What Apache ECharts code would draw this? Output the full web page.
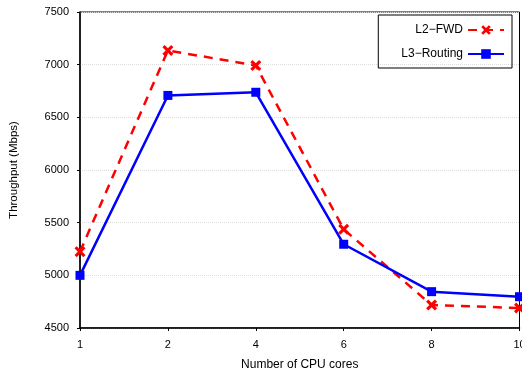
<!DOCTYPE html>
<html><head><meta charset="utf-8">
<script src="https://cdn.jsdelivr.net/npm/echarts@6/dist/echarts.min.js"></script>
<style>html,body{margin:0;padding:0;background:#fff}#c{width:522px;height:373px}</style>
</head><body><div id="c"></div>
<script>
const categories = ['1','2','4','6','8','10'];
const l2fwd = [5225, 7135, 6992, 5437, 4718, 4690];
const l3routing = [5000, 6708, 6738, 5295, 4845, 4797];
const yTicks = {min: 4500, max: 7500, interval: 500};

const crossPath = 'path://M0,2L2,0L5,3L8,0L10,2L7,5L10,8L8,10L5,7L2,10L0,8L3,5Z';
const font = 'Liberation Sans, Arial, Helvetica, sans-serif';
const chart = echarts.init(document.getElementById('c'));
chart.setOption({
  animation: false,
  backgroundColor: '#fff',
  textStyle: {fontFamily: font},
  grid: {left: 80, right: 2.5, top: 12, bottom: 45, show: true, borderColor: '#000', borderWidth: 1,
         containLabel: false, outerBoundsMode: 'none'},
  legend: {
    right: 10, top: 15, orient: 'vertical', align: 'right',
    borderColor: '#000', borderWidth: 1, padding: [9, 7, 8, 23], itemGap: 12,
    itemWidth: 36, itemHeight: 12,
    textStyle: {fontFamily: font, fontSize: 12, color: '#000'},
    data: ['L2\u2212FWD', 'L3\u2212Routing']
  },
  xAxis: {
    type: 'category', data: categories, boundaryGap: false,
    name: 'Number of CPU cores', nameLocation: 'middle', nameGap: 31,
    nameTextStyle: {fontFamily: font, fontSize: 12, color: '#000'},
    axisLine: {lineStyle: {color: '#000', width: 1.5}},
    axisTick: {show: true, length: 3, lineStyle: {color: '#000'}},
    axisLabel: {fontFamily: font, fontSize: 11, color: '#000', margin: 11, showMaxLabel: true},
    splitLine: {show: false}
  },
  yAxis: {
    type: 'value', min: yTicks.min, max: yTicks.max, interval: yTicks.interval,
    name: 'Throughput (Mbps)', nameLocation: 'middle', nameGap: 60,
    nameTextStyle: {fontFamily: font, fontSize: 11.5, color: '#000'},
    axisLine: {show: true, lineStyle: {color: '#000', width: 1.5}},
    axisTick: {show: true, length: 3, lineStyle: {color: '#000'}},
    axisLabel: {fontFamily: font, fontSize: 11, color: '#000', margin: 11, formatter: v => String(v)},
    splitLine: {show: true, lineStyle: {color: '#ddd', type: 'dotted', width: 1}}
  },
  series: [
    {
      name: 'L2\u2212FWD', type: 'line', data: l2fwd,
      symbol: crossPath, symbolSize: 11,
      itemStyle: {color: '#ff0000'},
      lineStyle: {color: '#ff0000', width: 2.5, type: [9, 7]},
      z: 2
    },
    {
      name: 'L3\u2212Routing', type: 'line', data: l3routing,
      symbol: 'rect', symbolSize: 9,
      itemStyle: {color: '#0000ff'},
      lineStyle: {color: '#0000ff', width: 2.5},
      z: 3
    }
  ]
});
</script></body></html>
